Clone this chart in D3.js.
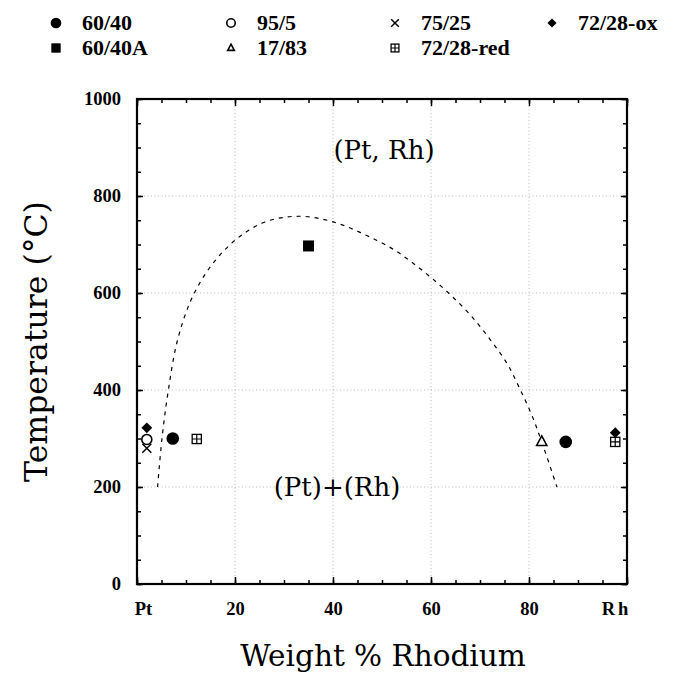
<!DOCTYPE html>
<html>
<head>
<meta charset="utf-8">
<script src="https://cdn.jsdelivr.net/npm/d3@7"></script>
<style>
  html, body { margin: 0; padding: 0; background: #fff; }
  svg { display: block; }
</style>
</head>
<body>
<svg id="chart" width="674" height="676"></svg>
<script>
// Pt–Rh phase diagram: miscibility gap with annealed sample compositions

// Sample series (weight % Rh, temperature °C)
const seriesNames = ["60/40", "95/5", "75/25", "72/28-ox", "60/40A", "17/83", "72/28-red"];
const seriesSymbols = ["dot", "ring", "cross", "diamond", "square", "triangle", "boxplus"];
const s6040X = [7.3, 87.5];
const s6040T = [300, 293];
const s6040AX = [35];
const s6040AT = [697];
const s955X = [2];
const s955T = [298];
const s1783X = [82.6];
const s1783T = [293];
const s7525X = [2];
const s7525T = [280];
const s7228redX = [12.2, 97.6];
const s7228redT = [299, 293];
const s7228oxX = [2, 97.6];
const s7228oxT = [322, 312];

// Miscibility gap boundary
const gapX = [4.2, 5.1, 6.4, 8.2, 10.8, 14.0, 18.0, 22.0, 26.0, 30.0, 34.0, 38.0, 42.0, 47.0, 52.0, 56.0, 60.0, 64.0, 68.0, 72.0, 75.5, 78.0, 80.5, 82.6, 85.7];
const gapT = [200, 300, 400, 500, 580, 640, 690, 724, 746, 756, 758, 752, 740, 718, 692, 664, 632, 596, 555, 505, 455, 405, 350, 293, 200];

// Axis ticks
const xTickValues = [0, 20, 40, 60, 80, 100];
const xTickLabels = ["Pt", "20", "40", "60", "80", "Rh"];
const yTickValues = [0, 200, 400, 600, 800, 1000];
const gridX = [20, 40, 60, 80];
const gridT = [200, 400, 600, 800];

const svg = d3.select("#chart");
const plot = { left: 137, right: 627, top: 99, bottom: 584 };

const x = d3.scaleLinear().domain([0, 100]).range([plot.left, plot.right]);
const y = d3.scaleLinear().domain([0, 1000]).range([plot.bottom, plot.top]);

// grid
const grid = svg.append("g").attr("stroke", "#a8a8a8").attr("stroke-width", 0.8)
  .attr("stroke-dasharray", "1,2.5");
grid.selectAll("line.h").data(gridT).join("line")
  .attr("x1", plot.left).attr("x2", plot.right)
  .attr("y1", d => y(d)).attr("y2", d => y(d));
grid.selectAll("line.v").data(gridX).join("line")
  .attr("y1", plot.top).attr("y2", plot.bottom)
  .attr("x1", d => x(d)).attr("x2", d => x(d));

// inward ticks on all four sides
function minor(step, max) { return d3.range(0, max + 0.001, step); }
const axes = svg.append("g");
axes.append("g").attr("transform", `translate(0,${plot.bottom})`)
  .call(d3.axisTop(x).tickValues(minor(5, 100)).tickSize(4).tickFormat(""));
axes.append("g").attr("transform", `translate(0,${plot.bottom})`)
  .call(d3.axisTop(x).tickValues(xTickValues).tickSize(7).tickFormat(""));
axes.append("g").attr("transform", `translate(0,${plot.top})`)
  .call(d3.axisBottom(x).tickValues(minor(5, 100)).tickSize(4).tickFormat(""));
axes.append("g").attr("transform", `translate(0,${plot.top})`)
  .call(d3.axisBottom(x).tickValues(xTickValues).tickSize(7).tickFormat(""));
axes.append("g").attr("transform", `translate(${plot.left},0)`)
  .call(d3.axisRight(y).tickValues(minor(50, 1000)).tickSize(4).tickFormat(""));
axes.append("g").attr("transform", `translate(${plot.left},0)`)
  .call(d3.axisRight(y).tickValues(yTickValues).tickSize(6).tickFormat(""));
axes.append("g").attr("transform", `translate(${plot.right},0)`)
  .call(d3.axisLeft(y).tickValues(minor(50, 1000)).tickSize(4).tickFormat(""));
axes.append("g").attr("transform", `translate(${plot.right},0)`)
  .call(d3.axisLeft(y).tickValues(yTickValues).tickSize(6).tickFormat(""));
axes.selectAll(".domain").remove();
axes.selectAll(".tick line").attr("stroke", "#000").attr("stroke-width", 1.5);

// frame
svg.append("rect")
  .attr("x", plot.left).attr("y", plot.top)
  .attr("width", plot.right - plot.left).attr("height", plot.bottom - plot.top)
  .attr("fill", "none").attr("stroke", "#000").attr("stroke-width", 2.2);

// tick labels
const tickFont = "'Liberation Serif', 'Times New Roman', serif";
const yLab = svg.append("g")
  .call(d3.axisLeft(y).tickValues(yTickValues).tickSize(0).tickPadding(0).tickFormat(d3.format("d")))
  .attr("transform", `translate(${plot.left - 16},0)`);
yLab.select(".domain").remove();
yLab.selectAll("text").attr("font-family", tickFont).attr("font-weight", "bold")
  .attr("font-size", 18.5).attr("fill", "#000");

const xLab = svg.append("g")
  .call(d3.axisBottom(x).tickValues(xTickValues).tickSize(0).tickPadding(0)
    .tickFormat((d, i) => xTickLabels[i]))
  .attr("transform", `translate(0,${plot.bottom + 18})`);
xLab.select(".domain").remove();
xLab.selectAll("text").attr("font-family", tickFont).attr("font-weight", "bold")
  .attr("font-size", 18.5).attr("fill", "#000")
  .attr("dx", (d, i) => i === 0 ? 6 : (i === xTickValues.length - 1 ? -11 : 0))
  .attr("letter-spacing", (d, i) => i === xTickValues.length - 1 ? 3 : 0);

// miscibility gap boundary
const line = d3.line().x(d => x(d[0])).y(d => y(d[1])).curve(d3.curveCatmullRom.alpha(0.5));
svg.append("path")
  .datum(gapX.map((v, i) => [v, gapT[i]]))
  .attr("d", line)
  .attr("fill", "none").attr("stroke", "#000").attr("stroke-width", 1.2)
  .attr("stroke-dasharray", "4,5");

// marker drawing
function drawMarker(g, type, cx, cy, s) {
  const k = s / 10;
  if (type === "dot") {
    g.append("circle").attr("cx", cx).attr("cy", cy).attr("r", 6.3 * k).attr("fill", "#000");
  } else if (type === "ring") {
    g.append("circle").attr("cx", cx).attr("cy", cy).attr("r", 5 * k)
      .attr("fill", "#fff").attr("stroke", "#000").attr("stroke-width", 1.6);
  } else if (type === "square") {
    g.append("rect").attr("x", cx - 5.5 * k).attr("y", cy - 5.5 * k)
      .attr("width", 11 * k).attr("height", 11 * k).attr("fill", "#000");
  } else if (type === "diamond") {
    const r = 5.4 * k;
    g.append("path").attr("d", `M${cx},${cy - r}L${cx + r},${cy}L${cx},${cy + r}L${cx - r},${cy}Z`)
      .attr("fill", "#000");
  } else if (type === "cross") {
    const r = 4.5 * k;
    g.append("path").attr("d", `M${cx - r},${cy - r}L${cx + r},${cy + r}M${cx - r},${cy + r}L${cx + r},${cy - r}`)
      .attr("stroke", "#000").attr("stroke-width", 1.5);
  } else if (type === "triangle") {
    const r = 6 * k;
    g.append("path").attr("d", `M${cx},${cy - r}L${cx + r * 0.85},${cy + r * 0.6}L${cx - r * 0.85},${cy + r * 0.6}Z`)
      .attr("fill", "#fff").attr("stroke", "#000").attr("stroke-width", 1.6);
  } else if (type === "boxplus") {
    const r = 4.6 * k;
    g.append("rect").attr("x", cx - r).attr("y", cy - r).attr("width", 2 * r).attr("height", 2 * r)
      .attr("fill", "#fff").attr("stroke", "#000").attr("stroke-width", 1.3);
    g.append("path").attr("d", `M${cx - r},${cy}L${cx + r},${cy}M${cx},${cy - r}L${cx},${cy + r}`)
      .attr("stroke", "#000").attr("stroke-width", 1.2);
  }
}

const seriesData = [
  { name: "72/28-ox", type: "diamond", xs: s7228oxX, ts: s7228oxT },
  { name: "72/28-red", type: "boxplus", xs: s7228redX, ts: s7228redT },
  { name: "75/25", type: "cross", xs: s7525X, ts: s7525T },
  { name: "95/5", type: "ring", xs: s955X, ts: s955T },
  { name: "60/40", type: "dot", xs: s6040X, ts: s6040T },
  { name: "60/40A", type: "square", xs: s6040AX, ts: s6040AT },
  { name: "17/83", type: "triangle", xs: s1783X, ts: s1783T }
];
const marks = svg.append("g");
seriesData.forEach(sr => {
  sr.xs.forEach((v, i) => drawMarker(marks, sr.type, x(v), y(sr.ts[i]), 10));
});

// region labels
const bigFont = "'DejaVu Serif', serif";
svg.append("text").attr("x", 384).attr("y", 159).attr("text-anchor", "middle")
  .attr("font-family", bigFont).attr("font-size", 26).text("(Pt, Rh)");
svg.append("text").attr("x", 337).attr("y", 496).attr("text-anchor", "middle")
  .attr("font-family", bigFont).attr("font-size", 26).text("(Pt)+(Rh)");

// axis titles
svg.append("text").attr("x", 383).attr("y", 666).attr("text-anchor", "middle")
  .attr("font-family", bigFont).attr("font-size", 29.5).text("Weight % Rhodium");
svg.append("text").attr("transform", `translate(47,${(plot.top + plot.bottom) / 2}) rotate(-90)`)
  .attr("text-anchor", "middle")
  .attr("font-family", bigFont).attr("font-size", 31.5).text("Temperature (°C)");

// legend
const legendCols = [56, 231, 395, 552];
const legendRows = [23, 48];
const legend = svg.append("g");
seriesNames.forEach((name, i) => {
  const col = i < 4 ? i : i - 4;
  const row = i < 4 ? 0 : 1;
  const cx = legendCols[col], cy = legendRows[row];
  drawMarker(legend, seriesSymbols[i], cx, cy, i === 5 ? 6.5 : 8.5);
  legend.append("text").attr("x", cx + 26).attr("y", cy + 7)
    .attr("font-family", tickFont).attr("font-weight", "bold").attr("font-size", 22)
    .text(name);
});
</script>
</body>
</html>
